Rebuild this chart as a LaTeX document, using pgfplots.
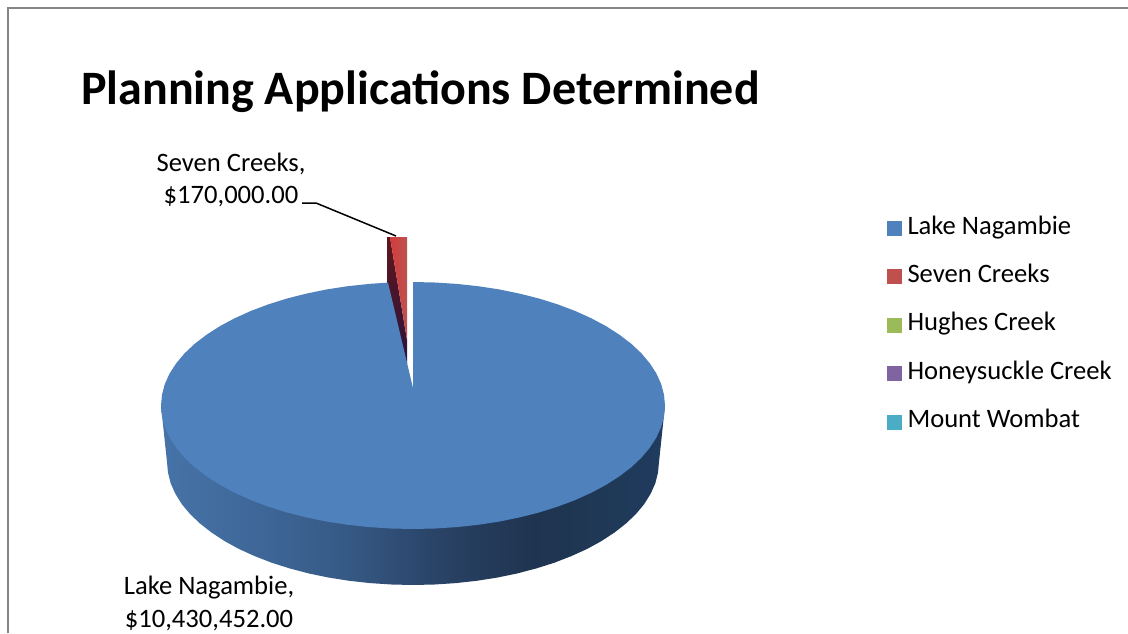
\documentclass[border=0pt]{standalone}
\usepackage{fontspec}
\setmainfont{Carlito}
\usepackage{pgfplots}
\pgfplotsset{compat=1.18}
\usepackage{tikz}

\definecolor{lakeblue}{HTML}{4F81BD}
\definecolor{sevenred}{HTML}{C0504D}
\definecolor{hughesgreen}{HTML}{9BBB59}
\definecolor{honeypurple}{HTML}{8064A2}
\definecolor{wombatteal}{HTML}{4BACC6}
\definecolor{framegray}{HTML}{868686}

\definecolor{walla}{HTML}{4673A8}
\definecolor{wallb}{HTML}{3F6899}
\definecolor{wallc}{HTML}{365A86}
\definecolor{walld}{HTML}{2A4468}
\definecolor{walle}{HTML}{243B5A}
\definecolor{wallf}{HTML}{1F3450}
\definecolor{wallg}{HTML}{1F3855}
\definecolor{wallh}{HTML}{1F3B5E}
% side wall of the pie, lit from the left (visible range is 25bp to 75bp)
\pgfdeclarehorizontalshading{sidewall}{100bp}{
  color(0bp)=(walla); color(25bp)=(walla); color(34bp)=(wallb); color(43bp)=(wallc);
  color(52bp)=(walld); color(57bp)=(walle); color(62bp)=(wallf); color(68bp)=(wallg);
  color(75bp)=(wallh); color(100bp)=(wallh)}

\begin{document}
\begin{tikzpicture}
\begin{axis}[
    scale only axis,
    width=1128pt, height=633pt,
    xmin=0, xmax=1128, ymin=0, ymax=633,
    y dir=reverse,
    ticks=none,
    axis line style={draw=none},
    legend style={at={(axis cs:887,217)}, anchor=north west, draw=none, fill=none,
        font=\fontsize{26.6}{26.6}\selectfont, row sep=25.4pt, inner sep=0pt, outer sep=0pt,
        nodes={text height=17pt, text depth=6pt, inner sep=0pt, inner xsep=5.5pt, outer sep=0pt}},
    legend cell align=left,
    legend image code/.code={\fill[#1, draw=none] (-2pt,-7.5pt) rectangle (13pt,7.5pt);},
]

% frame of the chart area
\addplot[framegray, line width=1.4pt, forget plot] coordinates {(8,633) (8,8) (1128,8)};

% side wall
\addplot[draw=none, shading=sidewall, forget plot] coordinates {
    (161,405.5) (167,462) (168,472.7) (170.7,483.4) (175.4,493.8) (181.8,504.1) (190,514)
    (200,523.5) (211.5,532.5) (224.6,541.1) (239,549) (254.9,556.2) (271.9,562.8) (290,568.5)
    (309,573.5) (328.9,577.6) (349.3,580.8) (370.2,583.1) (391.5,584.5) (413,585)
    (434.5,584.5) (455.8,583.1) (476.7,580.8) (497.1,577.6) (517,573.5) (536,568.5)
    (554.1,562.8) (571.1,556.2) (587,549) (601.4,541.1) (614.5,532.5) (626,523.5)
    (636,514) (644.2,504.1) (650.6,493.8) (655.3,483.4) (658,472.7) (659,462) (665,405.5)
} -- cycle;

% Seven Creeks, 170000: exploded slice, inner wall then top face
\addplot[draw=none, top color={rgb,255:red,96;green,22;blue,28}, bottom color={rgb,255:red,42;green,20;blue,62}, forget plot] coordinates {
    (387,237) (390,237) (407,340) (407,364) (387,284)
} -- cycle;
\addplot[draw=none, left color={rgb,255:red,214;green,58;blue,60}, right color={rgb,255:red,186;green,84;blue,80}, forget plot] coordinates {
    (390,237) (407,237) (407,340)
} -- cycle;

% Lake Nagambie, 10430452: top face
\addplot[draw=none, fill=lakeblue, forget plot] coordinates {
    (413,388) (413,282) (435,282.5) (456.8,283.9) (478.2,286.2) (499.2,289.4) (519.5,293.6)
    (539,298.5) (557.5,304.3) (575,310.9) (591.2,318.2) (606,326.1) (619.4,334.7)
    (631.2,343.7) (641.4,353.3) (649.8,363.3) (656.4,373.5) (661.2,384.1) (664,394.7)
    (665,405.5) (664,416.3) (661.2,426.9) (656.4,437.5) (649.8,447.7) (641.4,457.7)
    (631.2,467.3) (619.4,476.3) (606,484.9) (591.2,492.8) (575,500.1) (557.5,506.7)
    (539,512.5) (519.5,517.4) (499.2,521.6) (478.2,524.8) (456.8,527.1) (435,528.5)
    (413,529) (391,528.5) (369.2,527.1) (347.8,524.8) (326.8,521.6) (306.5,517.4)
    (287,512.5) (268.5,506.7) (251,500.1) (234.8,492.8) (220,484.9) (206.6,476.3)
    (194.8,467.3) (184.6,457.7) (176.2,447.7) (169.6,437.5) (164.8,426.9) (162,416.3)
    (161,405.5) (162,394.7) (164.8,384.1) (169.6,373.5) (176.2,363.3) (184.6,353.3)
    (194.8,343.7) (206.6,334.7) (220,326.1) (234.8,318.2) (251,310.9) (268.5,304.3)
    (287,298.5) (306.5,293.6) (326.8,289.4) (347.8,286.2) (369.2,283.9) (388,282.6)
} -- cycle;

% leader line of the Seven Creeks label
\addplot[black, line width=1.5pt, forget plot] coordinates {(302,203) (316,203) (396,236)};

% legend, the last three areas are too small to show in the pie
\addlegendimage{fill=lakeblue}
\addlegendentry{Lake Nagambie}
\addlegendimage{fill=sevenred}
\addlegendentry{Seven Creeks}
\addlegendimage{fill=hughesgreen}
\addlegendentry{Hughes Creek}
\addlegendimage{fill=honeypurple}
\addlegendentry{Honeysuckle Creek}
\addlegendimage{fill=wombatteal}
\addlegendentry{Mount Wombat}

\node[anchor=base west, inner sep=0pt, font=\fontsize{48}{48}\selectfont\bfseries] at (axis cs:81,104) {Planning Applications Determined};
\node[align=center, inner sep=0pt, font=\fontsize{26.6}{32.6}\selectfont] at (axis cs:231,180) {Seven Creeks,\\\$170,000.00};
\node[align=center, inner sep=0pt, font=\fontsize{26.6}{32.6}\selectfont] at (axis cs:209,603.5) {Lake Nagambie,\\\$10,430,452.00};
\end{axis}
\end{tikzpicture}
\end{document}
